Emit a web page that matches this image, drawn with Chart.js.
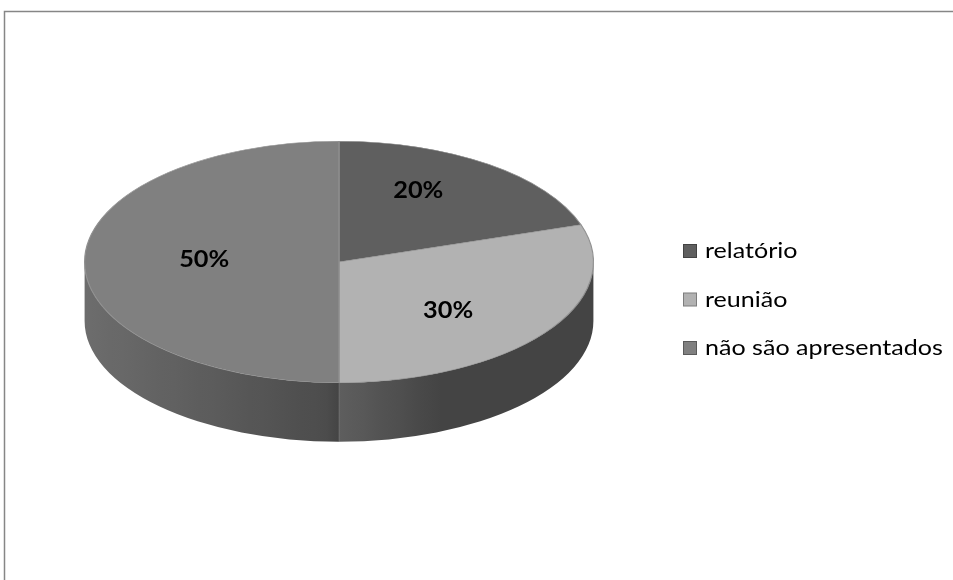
<!DOCTYPE html>
<html>
<head>
<meta charset="utf-8">
<script src="https://cdn.jsdelivr.net/npm/chart.js@4.4.1/dist/chart.umd.min.js"></script>
<style>
  html, body { margin: 0; padding: 0; background: #fff; overflow: hidden; }
  #wrap { width: 953px; height: 580px; }
</style>
</head>
<body>
<div id="wrap"><canvas id="c" width="953" height="580"></canvas></div>
<script>
// Categories and their shares (percent)
const categories = ['relatório', 'reunião', 'não são apresentados'];
const shares = [20, 30, 50];
const sliceColors = ['#5f5f5f', '#b2b2b2', '#808080'];

// Look of the tilted pie
const TILT = 121 / 255;      // vertical squash of the pie top
const DEPTH = 59;            // thickness of the pie wall
const FONT = 'Lato, "Open Sans", sans-serif';

function shade(hex, f) {
  const n = parseInt(hex.slice(1), 16);
  const ch = [(n >> 16) & 255, (n >> 8) & 255, n & 255].map(v => Math.max(0, Math.min(255, Math.round(v * f))));
  return 'rgb(' + ch.join(',') + ')';
}

// Brightness of the wall, by the x-direction of its outward normal (light from the left)
function sideLight(c) {
  return c < 0 ? 0.58 - 0.27 * c : 0.38 + 0.15 * Math.max(0, 1 - c / 0.4);
}

function stretchedText(ctx, text, x, y, align, stretch) {
  const w = ctx.measureText(text).width * stretch;
  const left = align === 'center' ? x - w / 2 : x;
  ctx.save();
  ctx.translate(left, y);
  ctx.scale(stretch, 1);
  ctx.textAlign = 'left';
  ctx.fillText(text, 0, 0);
  ctx.restore();
}

// Frame lines around the chart
const frame = {
  id: 'frame',
  beforeDraw(chart) {
    const ctx = chart.ctx;
    ctx.save();
    ctx.fillStyle = '#fff';
    ctx.fillRect(0, 0, chart.width, chart.height);
    ctx.strokeStyle = '#868686';
    ctx.lineWidth = 1.5;
    ctx.beginPath();
    ctx.moveTo(4.5, chart.height);
    ctx.lineTo(4.5, 11.5);
    ctx.lineTo(chart.width, 11.5);
    ctx.stroke();
    ctx.restore();
  }
};

// Draws the pie wall, tilts the slices, then adds labels and the legend
const pie3d = {
  id: 'pie3d',
  beforeDatasetsDraw(chart) {
    const ctx = chart.ctx;
    const arcs = chart.getDatasetMeta(0).data;
    const { x: cx, y: cy, outerRadius: r } = arcs[0];
    const ry = r * TILT;

    ctx.save();
    arcs.forEach((arc, i) => {
      const s = arc.startAngle, e = arc.endAngle;
      for (const k of [-2 * Math.PI, 0, 2 * Math.PI]) {
        const lo = Math.max(s, k), hi = Math.min(e, k + Math.PI);
        if (hi - lo < 1e-6) continue;
        const a = lo - k, b = hi - k;
        const g = ctx.createLinearGradient(cx - r, 0, cx + r, 0);
        for (let j = 0; j <= 40; j++) {
          g.addColorStop(j / 40, shade(sliceColors[i], sideLight(-1 + j / 20)));
        }
        ctx.beginPath();
        ctx.ellipse(cx, cy, r, ry, 0, a, b);
        ctx.lineTo(cx + r * Math.cos(b), cy + ry * Math.sin(b) + DEPTH);
        ctx.ellipse(cx, cy + DEPTH, r, ry, 0, b, a, true);
        ctx.closePath();
        ctx.fillStyle = g;
        ctx.fill();
      }
    });
    // seams where slices meet on the wall
    ctx.strokeStyle = 'rgba(255,255,255,0.14)';
    ctx.lineWidth = 1;
    arcs.forEach(arc => {
      let t = arc.endAngle % (2 * Math.PI);
      if (t < 0) t += 2 * Math.PI;
      if (t > 0.01 && t < Math.PI - 0.01) {
        const px = cx + r * Math.cos(t), py = cy + ry * Math.sin(t);
        ctx.beginPath();
        ctx.moveTo(px, py);
        ctx.lineTo(px, py + DEPTH);
        ctx.stroke();
      }
    });
    ctx.restore();

    ctx.save();
    ctx.translate(cx, cy);
    ctx.scale(1, TILT);
    ctx.translate(-cx, -cy);
  },
  afterDatasetsDraw(chart) {
    const ctx = chart.ctx;
    ctx.restore();

    const arcs = chart.getDatasetMeta(0).data;
    const { x: cx, y: cy, outerRadius: r } = arcs[0];
    const ry = r * TILT;
    const values = chart.data.datasets[0].data;
    const total = values.reduce((p, v) => p + v, 0);

    ctx.save();
    ctx.fillStyle = '#000';
    ctx.font = 'bold 23px ' + FONT;
    ctx.textBaseline = 'middle';
    arcs.forEach((arc, i) => {
      const mid = (arc.startAngle + arc.endAngle) / 2;
      const lx = cx + 0.53 * r * Math.cos(mid);
      const ly = cy + 0.71 * ry * Math.sin(mid) - 2;
      stretchedText(ctx, Math.round(values[i] / total * 100) + '%', lx, ly, 'center', 1.1);
    });
    ctx.restore();
  },
  afterDraw(chart) {
    const ctx = chart.ctx;
    const labels = chart.data.labels;
    const colors = chart.data.datasets[0].backgroundColor;
    ctx.save();
    ctx.font = '22px ' + FONT;
    ctx.textBaseline = 'alphabetic';
    labels.forEach((label, i) => {
      const base = 258 + i * 48.5;
      ctx.fillStyle = colors[i];
      ctx.fillRect(683.5, base - 13.5, 13, 13);
      ctx.strokeStyle = shade(colors[i], 0.7);
      ctx.lineWidth = 1;
      ctx.strokeRect(683.5, base - 13.5, 13, 13);
      ctx.fillStyle = '#000';
      stretchedText(ctx, label, 705, base, 'left', 1.14);
    });
    ctx.restore();
  }
};

new Chart(document.getElementById('c'), {
  type: 'pie',
  data: {
    labels: categories,
    datasets: [{
      data: shares,
      backgroundColor: sliceColors,
      borderColor: '#909090',
      borderWidth: 1.2,
      hoverOffset: 0,
      clip: false
    }]
  },
  options: {
    responsive: false,
    animation: false,
    events: [],
    devicePixelRatio: 1,
    layout: { padding: { left: 84, right: 359, top: 7, bottom: 63 } },
    plugins: { legend: { display: false }, tooltip: { enabled: false } }
  },
  plugins: [frame, pie3d]
});
</script>
</body>
</html>
